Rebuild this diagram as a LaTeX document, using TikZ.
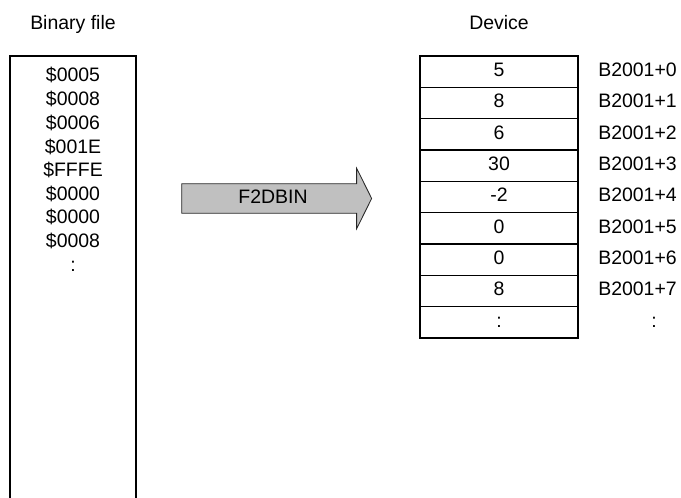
\documentclass[tikz,border=0pt]{standalone}
\usepackage{fontspec}
\setmainfont{Liberation Sans}
\usetikzlibrary{shapes.arrows}
\definecolor{arrgrey}{HTML}{C0C0C0}
\tikzset{
  cell/.style  = {rectangle, draw, line width=1pt, minimum width=118.5pt, minimum height=23.5pt, inner sep=0, text height=0.716em, text depth=0pt},
  val/.style   = {inner sep=0, text height=0.716em, text depth=0pt},
  addr/.style  = {val, anchor=west},
  title/.style = {val},
  conv/.style  = {single arrow, draw=black!85, line width=0.6pt, fill=arrgrey, single arrow head extend=11.6pt, single arrow tip angle=127, single arrow head indent=0pt, minimum height=142.5pt, text height=0.716em, text depth=0pt, inner ysep=7.15pt}
}

\begin{document}
\begin{tikzpicture}[x=0.75pt, y=-0.75pt, font=\fontsize{14.6}{17.6}\selectfont]
  \useasboundingbox (0,0) rectangle (681,498);
  % binary file
  \node[title] (bt) at (73,25) {Binary file};
  \draw[line width=1pt] (10,505) -- (10,56) -- (136,56) -- (136,505);
  \node[val] (b0) at (73,77) {\$0005};  \node[val] (b1) at (73,100.5) {\$0008}; \node[val] (b2) at (73,124.5) {\$0006};
  \node[val] (b3) at (73,148.5) {\$001E}; \node[val] (b4) at (73,172) {\$FFFE};  \node[val] (b5) at (73,195.5) {\$0000};
  \node[val] (b6) at (73,219) {\$0000};  \node[val] (b7) at (73,243) {\$0008};  \node[val] (b8) at (73,267) {:};
  % conversion
  \node[conv] (f2d) at (273,198.5) {F2DBIN};
  % device
  \node[title] (dt) at (499,25) {Device};
  \node[cell] (d0) at (499,71.7) {5};  \node[addr] (a0) at (598,71.7) {B2001+0};
  \node[cell] (d1) at (499,103)  {8};  \node[addr] (a1) at (598,103)  {B2001+1};
  \node[cell] (d2) at (499,134.3){6};  \node[addr] (a2) at (598,134.3){B2001+2};
  \node[cell] (d3) at (499,165.6){30}; \node[addr] (a3) at (598,165.6){B2001+3};
  \node[cell] (d4) at (499,197)  {-2}; \node[addr] (a4) at (598,197)  {B2001+4};
  \node[cell] (d5) at (499,228.3){0};  \node[addr] (a5) at (598,228.3){B2001+5};
  \node[cell] (d6) at (499,259.6){0};  \node[addr] (a6) at (598,259.6){B2001+6};
  \node[cell] (d7) at (499,291)  {8};  \node[addr] (a7) at (598,291)  {B2001+7};
  \node[cell] (d8) at (499,322.3){:};  \node[val]  (a8) at (654,322.3){:};
\end{tikzpicture}
\end{document}
